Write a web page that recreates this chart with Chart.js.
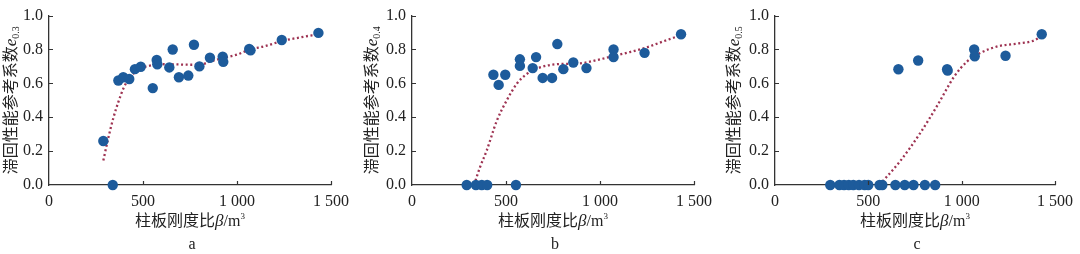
<!DOCTYPE html>
<html>
<head>
<meta charset="utf-8">
<script src="https://cdn.jsdelivr.net/npm/chart.js@4.4.1/dist/chart.umd.min.js"></script>
<style>
    html, body { margin: 0; padding: 0; background: #fff; }
    body { width: 1080px; height: 254px; position: relative; overflow: hidden; }
    canvas { position: absolute; top: 0; }
</style>
</head>
<body>
<canvas id="chart-a" width="360" height="254" style="left:0px"></canvas>
<canvas id="chart-b" width="360" height="254" style="left:360px"></canvas>
<canvas id="chart-c" width="360" height="254" style="left:720px"></canvas>
<script>
// Axis ticks
const xTicks = [0, 500, 1000, 1500];
const xTickLabels = ['0', '500', '1 000', '1 500'];
const yTicks = [0, 0.2, 0.4, 0.6, 0.8, 1.0];
const yTickLabels = ['0.0', '0.2', '0.4', '0.6', '0.8', '1.0'];

// Panel a (e0.3)
const aPointX = [289, 339, 369, 395, 427, 457, 488, 552, 573, 576, 640, 658, 691, 741, 771, 800, 856, 924, 927, 1065, 1072, 1238, 1433];
const aPointY = [0.26, 0, 0.617, 0.636, 0.626, 0.684, 0.698, 0.572, 0.738, 0.713, 0.694, 0.80, 0.636, 0.646, 0.828, 0.70, 0.751, 0.757, 0.727, 0.803, 0.795, 0.856, 0.898];
const aCurveX = [289, 316, 342, 369, 395, 431, 484, 546, 626, 750, 800, 860, 927, 1000, 1069, 1150, 1240, 1330, 1430];
const aCurveY = [0.145, 0.28, 0.395, 0.49, 0.568, 0.636, 0.684, 0.707, 0.713, 0.71, 0.71, 0.73, 0.75, 0.77, 0.80, 0.82, 0.85, 0.87, 0.89];

// Panel b (e0.4)
const bPointX = [291, 340, 371, 400, 553, 433, 461, 496, 574, 574, 642, 660, 695, 745, 773, 805, 858, 928, 1072, 1072, 1237, 1431];
const bPointY = [0, 0, 0, 0, 0, 0.651, 0.591, 0.651, 0.742, 0.703, 0.690, 0.755, 0.632, 0.632, 0.832, 0.684, 0.723, 0.69, 0.80, 0.755, 0.78, 0.89];
const bCurveX = [330, 362, 397, 450, 504, 557, 610, 681, 770, 894, 1000, 1071, 1142, 1239, 1337, 1434];
const bCurveY = [0, 0.106, 0.202, 0.376, 0.50, 0.597, 0.655, 0.694, 0.713, 0.718, 0.742, 0.761, 0.78, 0.809, 0.848, 0.886];

// Panel c (e0.5)
const cPointX = [296, 345, 370, 395, 420, 450, 480, 500, 560, 575, 645, 695, 742, 803, 858, 661, 767, 922, 925, 1067, 1070, 1235, 1429];
const cPointY = [0, 0, 0, 0, 0, 0, 0, 0, 0, 0, 0, 0, 0, 0, 0, 0.683, 0.735, 0.683, 0.675, 0.80, 0.76, 0.763, 0.89];
const cCurveX = [560, 600, 670, 780, 870, 960, 1030, 1100, 1200, 1300, 1380, 1430];
const cCurveY = [0, 0.05, 0.14, 0.31, 0.47, 0.64, 0.73, 0.78, 0.82, 0.835, 0.85, 0.88];

const pointColor = '#1d5b9b';
const curveColor = '#9e3352';
const axisColor = '#333';
const textColor = '#222';
const cjkFont = '"Noto Sans CJK SC", sans-serif';
const serifFont = '"Liberation Serif", "DejaVu Serif", serif';

function toPoints(xs, ys) {
    return xs.map((x, i) => ({ x: x, y: ys[i] }));
}

// draw a run of text pieces, each with its own font and vertical shift
function drawPieces(ctx, pieces, cx, cy) {
    let total = 0;
    pieces.forEach(p => {
        ctx.font = p.font;
        p.w = ctx.measureText(p.t).width;
        total += p.w;
    });
    let x = cx - total / 2;
    pieces.forEach(p => {
        ctx.font = p.font;
        ctx.fillText(p.t, x, cy + (p.dy || 0));
        x += p.w;
    });
}

const panelText = {
    id: 'panelText',
    afterDraw(chart, args, opts) {
        const { ctx, chartArea, scales } = chart;
        ctx.save();

        // short inward tick marks
        ctx.strokeStyle = axisColor;
        ctx.lineWidth = 1.2;
        ctx.beginPath();
        xTicks.forEach(v => {
            if (v === 0) return;
            const px = Math.round(scales.x.getPixelForValue(v)) + 0.5;
            ctx.moveTo(px, chartArea.bottom);
            ctx.lineTo(px, chartArea.bottom - 4);
        });
        yTicks.forEach(v => {
            if (v === 0) return;
            const py = Math.round(scales.y.getPixelForValue(v)) + 0.5;
            ctx.moveTo(chartArea.left, py);
            ctx.lineTo(chartArea.left + 4, py);
        });
        ctx.stroke();

        ctx.fillStyle = textColor;
        ctx.textBaseline = 'alphabetic';
        ctx.textAlign = 'left';

        // x axis title
        const midX = (chartArea.left + chartArea.right) / 2;
        drawPieces(ctx, [
            { t: '柱板刚度比', font: '16px ' + cjkFont },
            { t: 'β', font: 'italic 17px ' + serifFont },
            { t: '/m', font: '16px ' + serifFont },
            { t: '3', font: '9px ' + serifFont, dy: -7 }
        ], midX, 226);

        // panel letter
        ctx.font = '16px ' + serifFont;
        ctx.textAlign = 'center';
        ctx.fillText(opts.letter, midX + 2, 249);
        ctx.textAlign = 'left';

        // y axis title, rotated
        const midY = (chartArea.top + chartArea.bottom) / 2;
        ctx.translate(opts.titleX, midY);
        ctx.rotate(-Math.PI / 2);
        drawPieces(ctx, [
            { t: '滞回性能参考系数', font: '16px ' + cjkFont },
            { t: 'e', font: 'italic 17px ' + serifFont },
            { t: opts.sub, font: '10px ' + serifFont, dy: 3 }
        ], 0, 6);

        ctx.restore();
    }
};

function makeChart(canvasId, pointX, pointY, curveX, curveY, sub, letter, yWidth, rightPad, titleX) {
    const ctx = document.getElementById(canvasId).getContext('2d');
    return new Chart(ctx, {
        type: 'scatter',
        data: {
            datasets: [
                {
                    type: 'line',
                    data: toPoints(curveX, curveY),
                    borderColor: curveColor,
                    borderWidth: 2.3,
                    borderDash: [2, 2.6],
                    pointRadius: 0,
                    fill: false,
                    cubicInterpolationMode: 'monotone',
                    clip: false,
                    order: 2
                },
                {
                    data: toPoints(pointX, pointY),
                    backgroundColor: pointColor,
                    borderWidth: 0,
                    pointRadius: 5.2,
                    clip: false,
                    order: 1
                }
            ]
        },
        options: {
            responsive: false,
            animation: false,
            devicePixelRatio: 1,
            layout: { padding: { top: 12, right: rightPad, bottom: 0, left: 0 } },
            plugins: {
                legend: { display: false },
                tooltip: { enabled: false },
                panelText: { sub: sub, letter: letter, titleX: titleX }
            },
            scales: {
                x: {
                    type: 'linear',
                    min: 0,
                    max: 1500,
                    afterFit: scale => { scale.height = 69; },
                    grid: { display: false, drawTicks: false, tickLength: 0 },
                    border: { display: true, color: axisColor, width: 1.3 },
                    ticks: {
                        stepSize: 500,
                        padding: 7,
                        color: textColor,
                        font: { family: serifFont, size: 16 },
                        maxRotation: 0,
                        callback: v => xTickLabels[xTicks.indexOf(v)]
                    }
                },
                y: {
                    min: 0,
                    max: 1,
                    afterFit: scale => { scale.width = yWidth; },
                    grid: { display: false, drawTicks: false, tickLength: 0 },
                    border: { display: true, color: axisColor, width: 1.3 },
                    ticks: {
                        stepSize: 0.2,
                        padding: 6,
                        color: textColor,
                        font: { family: serifFont, size: 16 },
                        callback: v => yTickLabels[Math.round(v * 5)]
                    }
                }
            }
        },
        plugins: [panelText]
    });
}

makeChart('chart-a', aPointX, aPointY, aCurveX, aCurveY, '0.3', 'a', 49, 29, 10);
makeChart('chart-b', bPointX, bPointY, bCurveX, bCurveY, '0.4', 'b', 52, 26, 11);
makeChart('chart-c', cPointX, cPointY, cCurveX, cCurveY, '0.5', 'c', 55, 22, 13);
</script>
</body>
</html>
